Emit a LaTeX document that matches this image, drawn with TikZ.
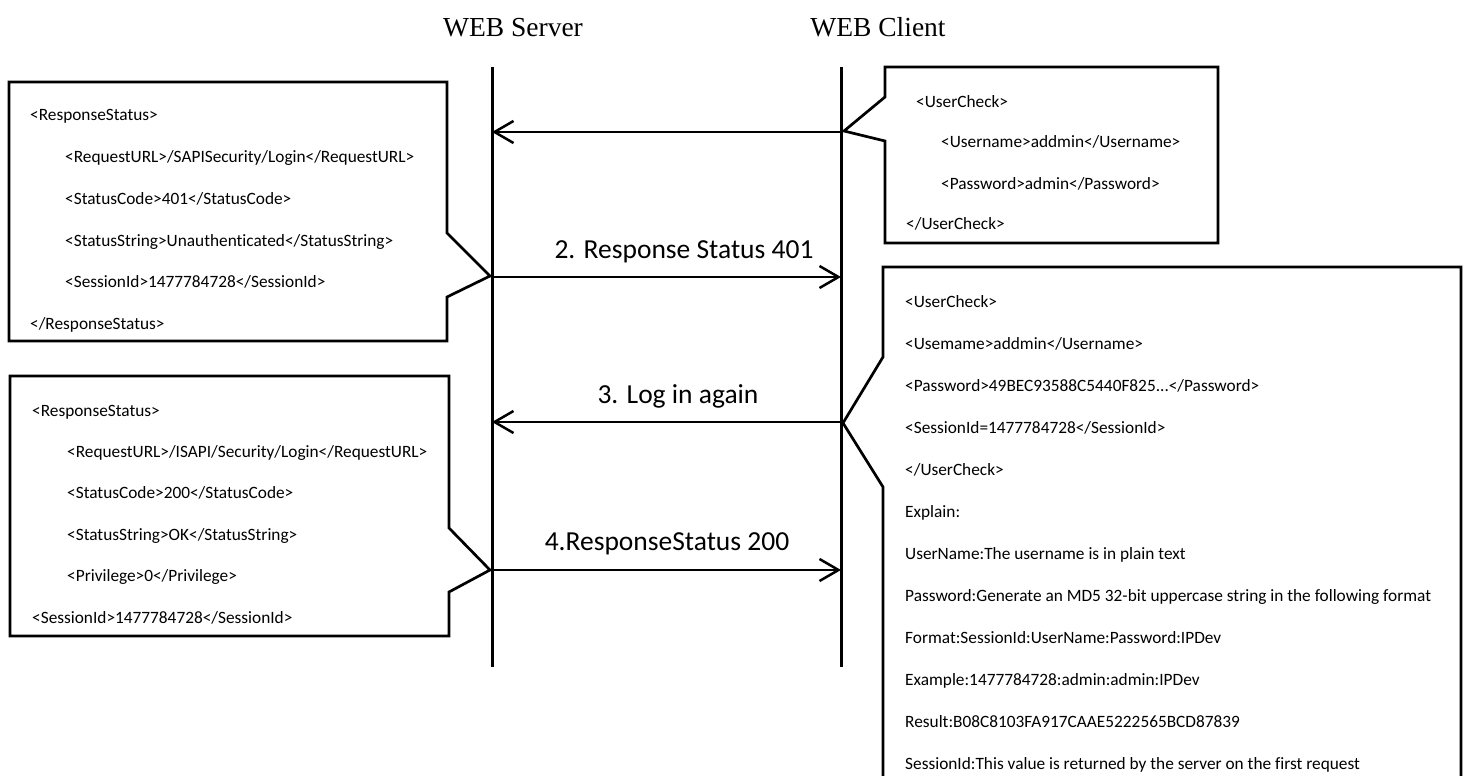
\documentclass[tikz,border=0pt]{standalone}
\usepackage{fontspec}
\setmainfont{Liberation Serif}
\newfontfamily\carl[Ligatures={NoCommon,NoRare,NoContextual}]{Carlito}
\usetikzlibrary{arrows.meta}
\begin{document}
\begin{tikzpicture}[x=1pt,y=-1pt,
  life/.style={line width=3pt},
  callout/.style={draw, line width=2.7pt, line join=miter, fill=white},
  msg/.style={line width=2.5pt, -{Straight Barb[length=19pt,width=22pt,line width=2.5pt]}},
  boxtxt/.style={anchor=base west, inner sep=0pt, font=\carl\fontsize{17.3}{20}\selectfont},
  msglabel/.style={anchor=base, inner sep=0pt, font=\carl\fontsize{27.5}{32}\selectfont},
  titletxt/.style={anchor=base, inner sep=0pt, font=\fontsize{27.5}{32}\selectfont}]
\clip (0,0) rectangle (1467,776);

% titles
\node[titletxt] (tserver) at (513,37) {WEB Server};
\node[titletxt] (tclient) at (878,37) {WEB Client};

% lifelines
\coordinate (stop) at (492,67);
\coordinate (sbot) at (492,667);
\coordinate (ctop) at (841,67);
\coordinate (cbot) at (841,667);
\draw[life] (stop) -- (sbot);
\draw[life] (ctop) -- (cbot);

% callout A
\draw[callout] (9,82) -- (447,82) -- (447,233) -- (490,276) -- (447,297) -- (447,341) -- (9,341) -- cycle;
\node[boxtxt] (a1) at (30,121) {<ResponseStatus>};
\node[boxtxt] (a2) at (65,162) {<RequestURL>/SAPISecurity/Login</RequestURL>};
\node[boxtxt] (a3) at (65,204) {<StatusCode>401</StatusCode>};
\node[boxtxt] (a4) at (65,246) {<StatusString>Unauthenticated</StatusString>};
\node[boxtxt] (a5) at (65,287) {<SessionId>1477784728</SessionId>};
\node[boxtxt] (a6) at (30,329) {</ResponseStatus>};

% callout B
\draw[callout] (10,376) -- (449,376) -- (449,528) -- (490,570) -- (449,592) -- (449,636) -- (10,636) -- cycle;
\node[boxtxt] (b1) at (32,416) {<ResponseStatus>};
\node[boxtxt] (b2) at (67,457) {<RequestURL>/ISAPI/Security/Login</RequestURL>};
\node[boxtxt] (b3) at (67,498) {<StatusCode>200</StatusCode>};
\node[boxtxt] (b4) at (67,540) {<StatusString>OK</StatusString>};
\node[boxtxt] (b5) at (67,581) {<Privilege>0</Privilege>};
\node[boxtxt] (b6) at (32,623) {<SessionId>1477784728</SessionId>};

% callout C
\draw[callout] (885,67) -- (1218,67) -- (1218,243) -- (885,243) -- (885,141) -- (844,131) -- (885,97) -- cycle;
\node[boxtxt] (c1) at (916,107) {<UserCheck>};
\node[boxtxt] (c2) at (941,147) {<Username>addmin</Username>};
\node[boxtxt] (c3) at (941,189) {<Password>admin</Password>};
\node[boxtxt] (c4) at (906,229) {</UserCheck>};

% callout D
\draw[callout] (883,267) -- (1461,267) -- (1461,800) -- (883,800) -- (883,487) -- (843,423) -- (883,357) -- cycle;
\node[boxtxt] (d1) at (905,307) {<UserCheck>};
\node[boxtxt] (d2) at (905,349) {<Usemame>addmin</Username>};
\node[boxtxt] (d3) at (905,391) {<Password>49BEC93588C5440F825...</Password>};
\node[boxtxt] (d4) at (905,433) {<SessionId=1477784728</SessionId>};
\node[boxtxt] (d5) at (905,475) {</UserCheck>};
\node[boxtxt] (d6) at (905,517) {Explain:};
\node[boxtxt] (d7) at (905,559) {UserName:The username is in plain text};
\node[boxtxt] (d8) at (905,601) {Password:Generate an MD5 32-bit uppercase string in the following format};
\node[boxtxt] (d9) at (905,643) {Format:SessionId:UserName:Password:IPDev};
\node[boxtxt] (d10) at (905,685) {Example:1477784728:admin:admin:IPDev};
\node[boxtxt] (d11) at (905,727) {Result:B08C8103FA917CAAE5222565BCD87839};
\node[boxtxt] (d12) at (905,769) {SessionId:This value is returned by the server on the first request};

% messages
\coordinate (s1) at (492,132); \coordinate (k1) at (841,132);
\coordinate (s2) at (492,277); \coordinate (k2) at (841,277);
\coordinate (s3) at (492,422); \coordinate (k3) at (841,422);
\coordinate (s4) at (492,570); \coordinate (k4) at (841,570);
\draw[msg] (k1) -- (s1);
\draw[msg] (s2) -- (k2);
\draw[msg] (k3) -- (s3);
\draw[msg] (s4) -- (k4);
\node[msglabel] (l2) at (684,258) {2. Response Status 401};
\node[msglabel] (l3) at (678,403) {3. Log in again};
\node[msglabel] (l4) at (667,550) {4.ResponseStatus 200};
\end{tikzpicture}
\end{document}
